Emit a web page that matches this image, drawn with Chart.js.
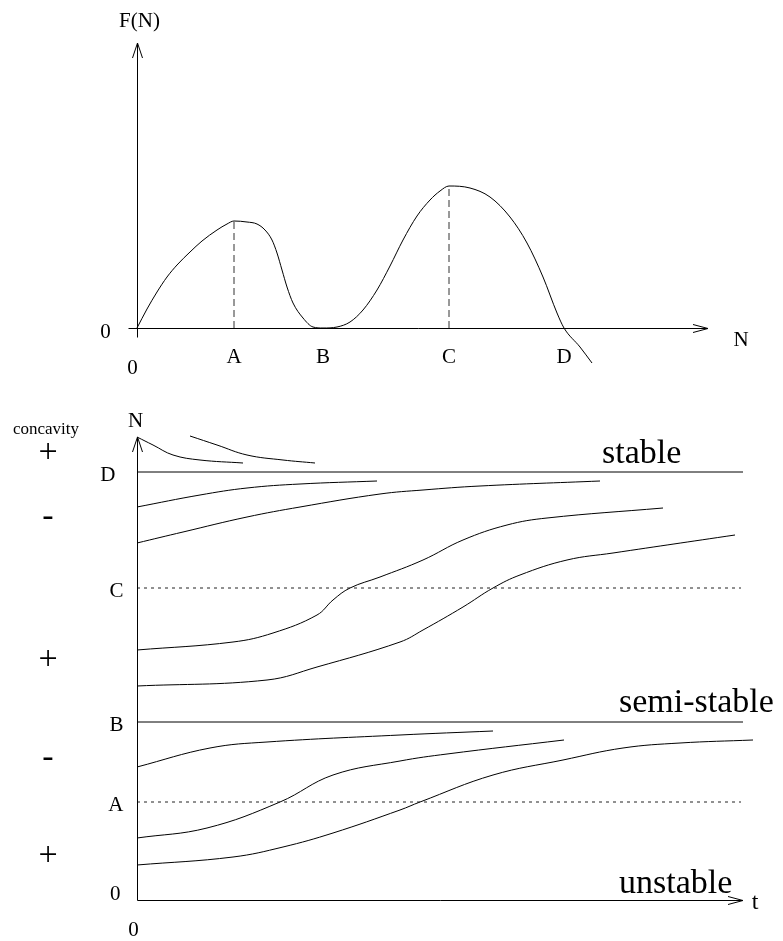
<!DOCTYPE html>
<html>
<head>
<meta charset="utf-8">
<script src="https://cdn.jsdelivr.net/npm/chart.js@4.4.1/dist/chart.umd.min.js"></script>
<style>
  body { margin: 0; background: #fff; }
  #wrap { position: relative; width: 783px; height: 941px; }
  canvas { position: absolute; left: 0; }
  #topChart { top: 0; }
  #bottomChart { top: 380px; }
</style>
</head>
<body>
<div id="wrap">
  <canvas id="topChart" width="783" height="380"></canvas>
  <canvas id="bottomChart" width="783" height="561"></canvas>
</div>
<script>
// ---- top panel: F(N) ----
const fN = [0, 10, 20, 30, 40, 53, 65, 80, 90, 97, 110, 120, 128, 135, 140, 145, 150, 156, 166, 176, 186, 200, 213, 226, 240, 253, 266, 280, 293, 303, 312, 333, 353, 373, 390, 406, 420, 427, 443, 455];
const fValue = [0, 19, 36, 51, 63, 76, 87, 98, 104, 107, 106, 104, 98, 88, 75, 58, 41, 25, 10, 1, 0, 1, 6, 18, 38, 62, 88, 112, 128, 137, 142, 140, 131, 111, 85, 51, 15, 0, -19, -35];
const fTickN = [97, 186, 312, 427];
const fTickLabels = ["A", "B", "C", "D"];
const peakN = [97, 312];
const peakF = [107, 142];

// ---- bottom panel: N(t) ----
const levelN = [428, 312, 178, 98];
const levelLabels = ["D", "C", "B", "A"];
const levelSolid = [true, false, true, false];
const levelEnd = [606, 604, 606, 604];

const solT = [
  [0, 16, 36, 63, 106],
  [53, 80, 110, 146, 178],
  [0, 63, 110, 163, 240],
  [0, 46, 110, 163, 243, 286, 343, 463],
  [0, 96, 136, 180, 196, 213, 243, 286, 326, 370, 410, 526],
  [0, 130, 180, 263, 286, 326, 356, 383, 430, 476, 598],
  [0, 73, 130, 263, 356],
  [0, 70, 143, 196, 263, 310, 427],
  [0, 96, 146, 196, 263, 283, 356, 426, 486, 543, 616],
];
const solN = [
  [463, 455, 445, 440, 437],
  [464, 455, 445, 440, 437],
  [393, 405, 412, 416, 419],
  [357, 368, 383, 393, 406, 410, 414, 419],
  [250, 258, 267, 285, 300, 312, 323, 340, 360, 375, 382, 392],
  [214, 220, 233, 258, 270, 293, 312, 325, 340, 347, 365],
  [133, 152, 158, 165, 169],
  [62, 72, 98, 125, 139, 146, 160],
  [35, 43, 53, 67, 90, 98, 125, 140, 152, 157, 160],
];

const stabilityLabels = ["stable", "semi-stable", "unstable"];
const stabilityN = [428, 178, 0];
const concavitySigns = ["+", "-", "+", "-", "+"];
const concavityN = [447, 383, 240, 142, 44];

const SERIF = '"Liberation Serif", "Times New Roman", serif';

function arrowUp(ctx, x, y) {
  ctx.beginPath();
  ctx.moveTo(x - 5, y + 15);
  ctx.lineTo(x, y);
  ctx.lineTo(x + 5, y + 15);
  ctx.stroke();
}

function arrowRight(ctx, x, y) {
  ctx.beginPath();
  ctx.moveTo(x - 15, y - 4);
  ctx.lineTo(x, y);
  ctx.lineTo(x - 15, y + 4);
  ctx.stroke();
}

const topAxes = {
  id: "topAxes",
  afterDatasetsDraw(chart) {
    const { ctx, scales: { x, y } } = chart;
    const x0 = Math.round(x.getPixelForValue(0)) + 0.5;
    const y0 = Math.round(y.getPixelForValue(0)) + 0.5;
    const xEnd = x.getPixelForValue(x.max);
    const yEnd = y.getPixelForValue(y.max);
    ctx.save();
    ctx.strokeStyle = "#000";
    ctx.lineWidth = 1;
    ctx.beginPath();
    ctx.moveTo(x0, y0 + 9);
    ctx.lineTo(x0, yEnd);
    ctx.moveTo(x0 - 9, y0);
    ctx.lineTo(xEnd, y0);
    ctx.stroke();
    arrowUp(ctx, x0, yEnd);
    arrowRight(ctx, xEnd, y0);

    ctx.fillStyle = "#000";
    ctx.textAlign = "center";
    ctx.textBaseline = "middle";
    ctx.font = "21px " + SERIF;
    fTickN.forEach((n, i) => {
      ctx.fillText(fTickLabels[i], x.getPixelForValue(n), y0 + 29);
    });
    ctx.fillText("0", x0 - 32, y0 + 4);
    ctx.fillText("0", x0 - 5, y0 + 40);
    ctx.fillText("N", xEnd + 33, y0 + 12);
    ctx.fillText("F(N)", x0 + 2, yEnd - 22);
    ctx.restore();
  },
};

const bottomAxes = {
  id: "bottomAxes",
  afterDatasetsDraw(chart) {
    const { ctx, scales: { x, y } } = chart;
    const x0 = Math.round(x.getPixelForValue(0)) + 0.5;
    const y0 = Math.round(y.getPixelForValue(0)) + 0.5;
    const xEnd = x.getPixelForValue(x.max);
    const yEnd = y.getPixelForValue(y.max);
    ctx.save();
    ctx.strokeStyle = "#000";
    ctx.lineWidth = 1;
    ctx.beginPath();
    ctx.moveTo(x0, y0);
    ctx.lineTo(x0, yEnd);
    ctx.moveTo(x0, y0);
    ctx.lineTo(xEnd, y0);
    ctx.stroke();
    arrowUp(ctx, x0, yEnd);
    arrowRight(ctx, xEnd, y0);

    ctx.fillStyle = "#000";
    ctx.textAlign = "right";
    ctx.textBaseline = "middle";
    ctx.font = "21px " + SERIF;
    levelN.forEach((n, i) => {
      const lx = levelLabels[i] === "D" ? x0 - 22 : x0 - 14;
      ctx.fillText(levelLabels[i], lx, y.getPixelForValue(n) + 3);
    });
    ctx.fillText("0", x0 - 17, y0 - 6);
    ctx.textAlign = "center";
    ctx.fillText("0", x0 - 4, y0 + 30);
    ctx.fillText("N", x0 - 2, yEnd - 16);
    ctx.font = "24px " + SERIF;
    ctx.fillText("t", xEnd + 12, y0 + 2);

    ctx.font = "17px " + SERIF;
    ctx.fillText("concavity", 46, yEnd - 7);
    ctx.font = "34px " + SERIF;
    ctx.textBaseline = "alphabetic";
    concavitySigns.forEach((s, i) => {
      ctx.fillText(s, 48, y.getPixelForValue(concavityN[i]) + 9);
    });

    ctx.textAlign = "left";
    const labelT = [465, 482, 482];
    const labelLift = [9, 10, 7];
    stabilityLabels.forEach((s, i) => {
      ctx.fillText(s, x.getPixelForValue(labelT[i]), y.getPixelForValue(stabilityN[i]) - labelLift[i]);
    });
    ctx.restore();
  },
};

const lineBase = {
  showLine: true,
  borderColor: "#000",
  borderWidth: 1,
  pointRadius: 0,
  clip: false,
  tension: 0,
};

const topDatasets = [
  {
    ...lineBase,
    data: fN.map((n, i) => ({ x: n, y: fValue[i] })),
    cubicInterpolationMode: "monotone",
  },
];
peakN.forEach((n, i) => {
  topDatasets.push({
    ...lineBase,
    borderColor: "#333",
    borderDash: [7, 4],
    data: [{ x: n, y: 0 }, { x: n, y: peakF[i] }],
  });
});

new Chart(document.getElementById("topChart"), {
  type: "scatter",
  data: { datasets: topDatasets },
  options: {
    responsive: false,
    animation: false,
    events: [],
    layout: { padding: { left: 137, right: 75, top: 43, bottom: 52 } },
    plugins: { legend: { display: false }, tooltip: { enabled: false } },
    scales: {
      x: { type: "linear", min: 0, max: 571, display: false },
      y: { type: "linear", min: 0, max: 285, display: false },
    },
  },
  plugins: [topAxes],
});

const bottomDatasets = [];
levelN.forEach((n, i) => {
  bottomDatasets.push({
    ...lineBase,
    borderColor: levelSolid[i] ? "#000" : "#222",
    borderDash: levelSolid[i] ? [] : [3, 4],
    data: [{ x: 0, y: n }, { x: levelEnd[i], y: n }],
  });
});
solT.forEach((ts, k) => {
  bottomDatasets.push({
    ...lineBase,
    tension: 0.4,
    capBezierPoints: false,
    data: ts.map((t, i) => ({ x: t, y: solN[k][i] })),
  });
});

new Chart(document.getElementById("bottomChart"), {
  type: "scatter",
  data: { datasets: bottomDatasets },
  options: {
    responsive: false,
    animation: false,
    events: [],
    layout: { padding: { left: 137, right: 40, top: 57, bottom: 41 } },
    plugins: { legend: { display: false }, tooltip: { enabled: false } },
    scales: {
      x: { type: "linear", min: 0, max: 606, display: false },
      y: { type: "linear", min: 0, max: 463, display: false },
    },
  },
  plugins: [bottomAxes],
});
</script>
</body>
</html>
